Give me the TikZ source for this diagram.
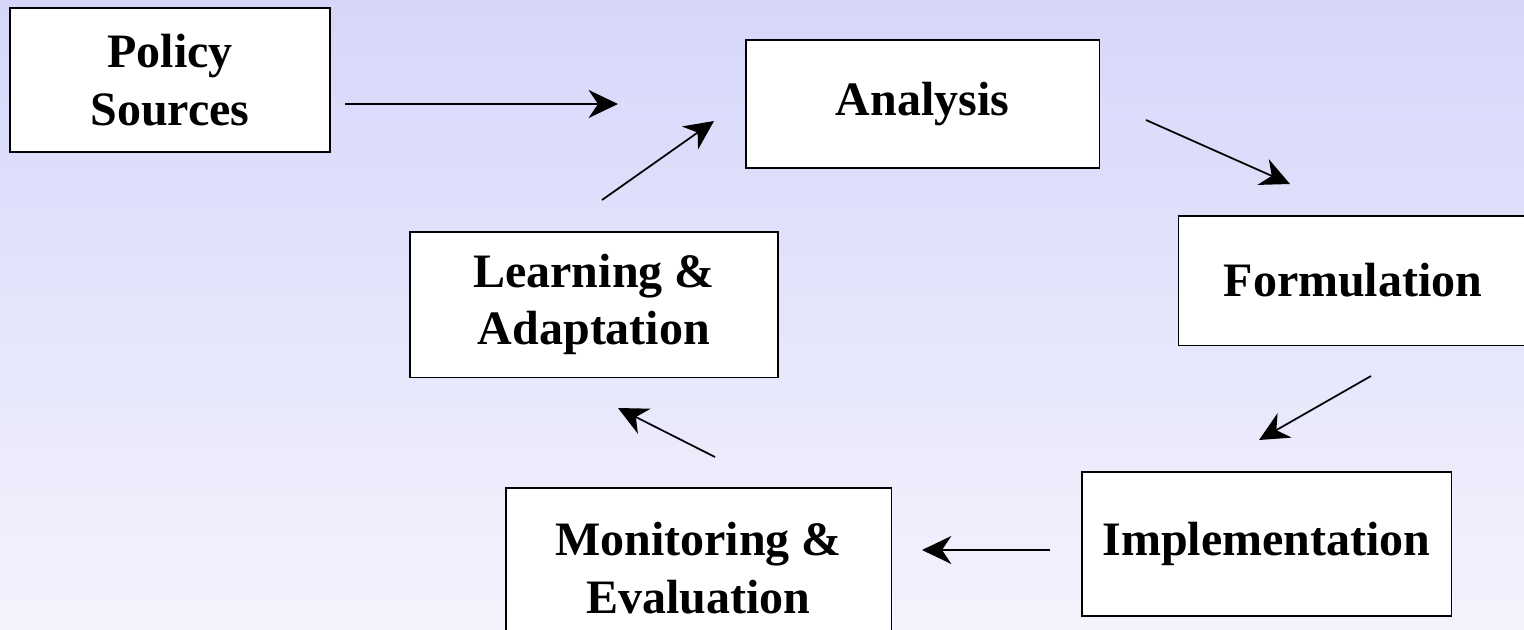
\documentclass[tikz,border=0pt]{standalone}
\usepackage{fontspec}
\setmainfont{Liberation Serif}
\usetikzlibrary{arrows.meta,positioning}

\definecolor{bgtop}{RGB}{214,214,250}
\definecolor{bgbottom}{RGB}{243,243,253}

\tikzset{
	stagebox/.style={draw=black,line width=1pt,fill=white,align=center,inner sep=0pt,
		font=\fontsize{36}{43}\selectfont\bfseries},
	flow/.style={->,line width=1.3pt}
}

\begin{document}
\begin{tikzpicture}[x=0.75pt,y=-0.75pt,>={Stealth[length=22pt,width=21pt,inset=7pt]}]
			\clip (0,0) rectangle (1524,629);
			\shade[top color=bgtop,bottom color=bgbottom] (0,0) rectangle (1524,629);
			\node[stagebox,minimum width=240pt,minimum height=108pt] (sources) at (170,80) {Policy\\Sources};
			\node[stagebox,minimum width=265pt,minimum height=96pt] (analysis) at (922.5,104) {Analysis};
			\node[stagebox,minimum width=262pt,minimum height=97pt] (formulation) at (1353,280.5) {Formulation};
			\node[stagebox,minimum width=277pt,minimum height=108pt] (implementation) at (1266.5,544) {Implementation};
			\node[stagebox,minimum width=289pt,minimum height=120pt] (monitoring) at (698.5,568) {Monitoring \&\\Evaluation};
			\node[stagebox,minimum width=276pt,minimum height=109pt] (learning) at (594,304.5) {Learning \&\\Adaptation};
			% free arrow ends
			\coordinate (s_out) at (345,104);
			\coordinate (a_in) at (618,104);
			\coordinate (l_out) at (602,200);
			\coordinate (a_in2) at (714,121);
			\coordinate (a_out) at (1146,120);
			\coordinate (f_in) at (1290,184);
			\coordinate (f_out) at (1371,376);
			\coordinate (i_in) at (1259,440);
			\coordinate (i_out) at (1050,550);
			\coordinate (m_in) at (922,550);
			\coordinate (m_out) at (715,457);
			\coordinate (l_in) at (618,408);
			\path[flow]
				(s_out) edge (a_in)
				(l_out) edge (a_in2)
				(a_out) edge (f_in)
				(f_out) edge (i_in)
				(i_out) edge (m_in)
				(m_out) edge (l_in);
		\end{tikzpicture}
\end{document}
